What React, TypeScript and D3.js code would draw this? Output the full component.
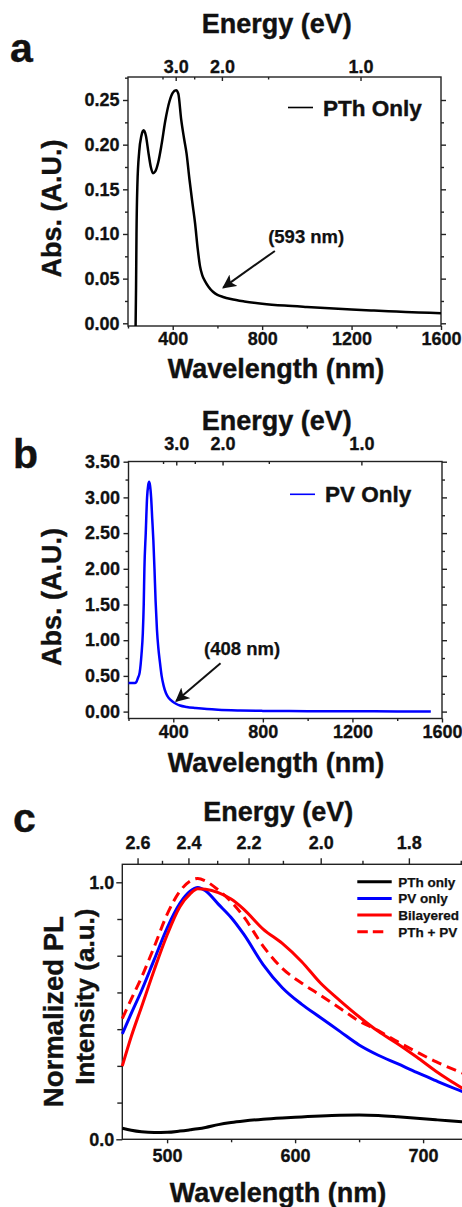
import React, { useEffect, useRef } from 'react'
import * as d3 from 'd3'

// panel a : PTh absorption
const pthWl = [234, 236, 238, 242, 250, 260, 270, 280, 292, 302, 312, 322, 335, 350, 367, 385, 400, 415, 425, 438, 450, 462, 475, 488, 500, 512, 522, 532, 545, 560, 580, 600, 625, 660, 720, 800, 900, 1000, 1100, 1200, 1300, 1400, 1500, 1600]
const pthAbs = [-0.003, 0.04, 0.1, 0.155, 0.192, 0.21, 0.216, 0.21, 0.19, 0.175, 0.168, 0.17, 0.18, 0.2, 0.227, 0.248, 0.258, 0.261, 0.257, 0.228, 0.208, 0.19, 0.161, 0.135, 0.112, 0.083, 0.064, 0.054, 0.047, 0.041, 0.0353, 0.0318, 0.0295, 0.0272, 0.0245, 0.022, 0.0198, 0.0182, 0.0168, 0.0155, 0.0143, 0.0132, 0.0122, 0.0112]

// panel b : PV absorption
const pvWl = [200, 215, 230, 236, 242, 250, 258, 264, 268, 271, 277, 283, 288, 292, 296, 301, 306, 311, 316, 321, 327, 333, 340, 348, 357, 367, 380, 395, 412, 430, 460, 500, 550, 600, 700, 800, 1000, 1200, 1400, 1550]
const pvAbs = [0.4, 0.4, 0.4, 0.42, 0.47, 0.55, 0.8, 1.1, 1.5, 2.0, 2.5, 3.0, 3.17, 3.22, 3.17, 3.0, 2.7, 2.4, 2.0, 1.55, 1.15, 0.9, 0.7, 0.5, 0.36, 0.26, 0.19, 0.145, 0.11, 0.085, 0.065, 0.05, 0.035, 0.025, 0.015, 0.01, 0.006, 0.004, 0.003, 0.002]

// panel c : normalized PL
const plWl = [465, 472, 480, 490, 500, 510, 518, 524, 530, 540, 550, 560, 575, 590, 605, 620, 635, 650, 665, 680, 695, 710, 720, 731]
const plPth = [0.043, 0.035, 0.029, 0.026, 0.027, 0.032, 0.037, 0.041, 0.046, 0.057, 0.065, 0.071, 0.078, 0.083, 0.087, 0.091, 0.094, 0.095, 0.093, 0.088, 0.082, 0.076, 0.072, 0.068]
const plPv = [0.41, 0.49, 0.578, 0.7, 0.822, 0.918, 0.965, 0.98, 0.967, 0.915, 0.863, 0.797, 0.68, 0.59, 0.526, 0.473, 0.42, 0.367, 0.327, 0.294, 0.26, 0.228, 0.207, 0.185]
const plBilayer = [0.285, 0.4, 0.515, 0.66, 0.795, 0.905, 0.955, 0.975, 0.973, 0.96, 0.935, 0.895, 0.818, 0.762, 0.692, 0.607, 0.54, 0.477, 0.42, 0.372, 0.32, 0.265, 0.232, 0.198]
const plMix = [0.47, 0.545, 0.63, 0.75, 0.875, 0.965, 1.005, 1.015, 1.005, 0.97, 0.925, 0.865, 0.752, 0.665, 0.608, 0.56, 0.51, 0.46, 0.423, 0.38, 0.34, 0.302, 0.28, 0.257]

const plSeries = [
  { name: 'PTh only', values: plPth, color: '#000000', dash: null },
  { name: 'PV only', values: plPv, color: '#0000ff', dash: null },
  { name: 'Bilayered', values: plBilayer, color: '#ff0000', dash: null },
  { name: 'PTh + PV', values: plMix, color: '#ff0000', dash: '10,6' },
]

// ticks
const absTicksA = [0, 0.05, 0.1, 0.15, 0.2, 0.25]
const absMinorA = [0.025, 0.075, 0.125, 0.175, 0.225, 0.275]
const absTicksB = [0, 0.5, 1, 1.5, 2, 2.5, 3, 3.5]
const absMinorB = [0.25, 0.75, 1.25, 1.75, 2.25, 2.75, 3.25]
const wlTicksAB = [400, 800, 1200, 1600]
const wlMinorAB = [200, 600, 1000, 1400]
const eTicksAB = [3.0, 2.0, 1.0]
const eMinorAB = [3.5, 2.5, 1.5]
const wlTicksC = [500, 600, 700]
const wlMinorC = [550, 650]
const eTicksC = [2.6, 2.4, 2.2, 2.0, 1.8]
const eMinorC = [2.5, 2.3, 2.1, 1.9, 1.7]
const plTicksC = [0, 1]
const plMinorC = [1 / 7, 2 / 7, 3 / 7, 4 / 7, 5 / 7, 6 / 7]

const FONT = '"Liberation Sans", Arial, Helvetica, sans-serif'

const App = () => {
  const svgRef = useRef()

  useEffect(() => {
    const svg = d3.select(svgRef.current)
    svg.selectAll('*').remove()

    const styleAxis = (g, size = 18) => {
      g.attr('font-size', size).attr('font-family', FONT).attr('font-weight', 'bold')
      g.selectAll('.domain').remove()
      g.selectAll('line').attr('stroke', '#222').attr('stroke-width', 1.4)
      g.selectAll('text').attr('fill', '#111').attr('stroke', '#111').attr('stroke-width', 0.3)
    }

    const text = (x, y, str, size, anchor = 'middle', rotate = false) =>
      svg.append('text')
        .attr('transform', rotate ? `translate(${x},${y}) rotate(-90)` : `translate(${x},${y})`)
        .attr('text-anchor', anchor)
        .attr('font-family', FONT)
        .attr('font-weight', 'bold')
        .attr('font-size', size)
        .attr('fill', '#111')
        .attr('stroke', '#111')
        .attr('stroke-width', size > 20 ? 0.4 : 0.25)
        .text(str)

    const arrow = (x1, y1, x2, y2) => {
      svg.append('line')
        .attr('x1', x1).attr('y1', y1).attr('x2', x2).attr('y2', y2)
        .attr('stroke', '#111').attr('stroke-width', 2)
        .attr('marker-end', 'url(#head)')
    }

    svg.append('defs').append('marker')
      .attr('id', 'head')
      .attr('viewBox', '0 0 10 10')
      .attr('refX', 9).attr('refY', 5)
      .attr('markerWidth', 7).attr('markerHeight', 7)
      .attr('orient', 'auto')
      .append('path').attr('d', 'M0,0 L10,5 L0,10 L2.5,5 z').attr('fill', '#111')

    // ---------- abs panels (a, b) ----------
    const absPanel = (p) => {
      const x = d3.scaleLinear().domain([200, 1600]).range([p.left, p.right])
      const y = d3.scaleLinear().domain([0, p.yMax]).range([p.y0, p.yTop])

      svg.append('rect')
        .attr('x', p.left).attr('y', p.top)
        .attr('width', p.right - p.left).attr('height', p.bottom - p.top)
        .attr('fill', 'none').attr('stroke', '#222').attr('stroke-width', 1.4)

      const g = svg.append('g')
      g.append('g').attr('transform', `translate(${p.left},0)`)
        .call(d3.axisLeft(y).tickValues(p.yTicks).tickSize(5).tickPadding(3.5).tickFormat(d3.format('.2f')))
        .call(styleAxis)
      g.append('g').attr('transform', `translate(${p.left},0)`)
        .call(d3.axisLeft(y).tickValues(p.yMinor).tickSize(3).tickFormat(() => ''))
        .call(styleAxis)
      g.append('g').attr('transform', `translate(${p.right},0)`)
        .call(d3.axisRight(y).tickValues(p.yTicks).tickSize(5).tickFormat(() => ''))
        .call(styleAxis)
      g.append('g').attr('transform', `translate(${p.right},0)`)
        .call(d3.axisRight(y).tickValues(p.yMinor.filter(v => y(v) > p.top + 1)).tickSize(3).tickFormat(() => ''))
        .call(styleAxis)
      g.append('g').attr('transform', `translate(0,${p.bottom})`)
        .call(d3.axisBottom(x).tickValues(wlTicksAB).tickSize(4).tickPadding(p.xPad).tickFormat(d3.format('d')))
        .call(styleAxis)
      g.append('g').attr('transform', `translate(0,${p.bottom})`)
        .call(d3.axisBottom(x).tickValues(wlMinorAB).tickSize(2.5).tickFormat(() => ''))
        .call(styleAxis)
      g.append('g').attr('transform', `translate(0,${p.top})`)
        .call(d3.axisTop(x).tickValues(eTicksAB.map(e => 1240 / e)).tickSizeInner(-4).tickPadding(p.ePad)
          .tickFormat(d => (1240 / d).toFixed(1)))
        .call(styleAxis)
      g.append('g').attr('transform', `translate(0,${p.top})`)
        .call(d3.axisTop(x).tickValues(eMinorAB.map(e => 1240 / e)).tickSizeInner(-2.5).tickFormat(() => ''))
        .call(styleAxis)

      const line = d3.line().x(d => x(d[0])).y(d => y(d[1])).curve(d3.curveMonotoneX)
      svg.append('path')
        .attr('d', line(d3.zip(p.wl, p.vals)))
        .attr('fill', 'none').attr('stroke', p.color).attr('stroke-width', 2.5)
        .attr('stroke-linejoin', 'round')

      // legend
      const lx = p.legend[0], ly = p.legend[1]
      svg.append('line').attr('x1', lx).attr('x2', lx + 25).attr('y1', ly).attr('y2', ly)
        .attr('stroke', p.color).attr('stroke-width', 1.6)
      text(lx + 35, ly + 8, p.name, 22.5, 'start')

      // annotation
      arrow(x(p.ann.tail[0]), y(p.ann.tail[1]), x(p.ann.tip[0]), y(p.ann.tip[1]))
      text(x(p.ann.text[0]), y(p.ann.text[1]), p.ann.label, 18.5)

      text(p.letter[0], p.letter[1], p.letter[2], 41, 'start')
      text(276.7, p.energyY, 'Energy (eV)', 27)
      text(276, p.wlY, 'Wavelength (nm)', 27)
      text(61, (p.top + p.bottom) / 2 + 7, 'Abs. (A.U.)', 27, 'middle', true)
    }

    absPanel({
      left: 128, right: 441, top: 77, bottom: 326, y0: 323.3, yTop: 100, yMax: 0.25,
      yTicks: absTicksA, yMinor: absMinorA, xPad: 2.2, ePad: 4.3,
      wl: pthWl, vals: pthAbs, color: '#000', name: 'PTh Only', legend: [288, 107.5],
      ann: { tail: [857, 0.081], tip: [626, 0.040], text: [997, 0.0895], label: '(593 nm)' },
      letter: [10, 62, 'a'], energyY: 33.3, wlY: 378.3,
    })

    absPanel({
      left: 128.5, right: 442, top: 461.5, bottom: 718.5, y0: 711.6, yTop: 461.7, yMax: 3.5,
      yTicks: absTicksB, yMinor: absMinorB, xPad: 3.1, ePad: 11.5,
      wl: pvWl, vals: pvAbs, color: '#0000ff', name: 'PV Only', legend: [290, 494.3],
      ann: { tail: [611, 0.676], tip: [413, 0.148], text: [707, 0.79], label: '(408 nm)' },
      letter: [13, 468, 'b'], energyY: 430, wlY: 771.7,
    })

    // ---------- PL panel (c) ----------
    const c = { left: 122.3, top: 864.3, bottom: 1139.3 }
    const xc = d3.scaleLinear().domain([465, 740]).range([c.left, c.left + 275 * 1.28])
    const yc = d3.scaleLinear().domain([0, 1]).range([c.bottom, 882.3])

    svg.append('rect')
      .attr('x', c.left).attr('y', c.top)
      .attr('width', xc(740) - c.left).attr('height', c.bottom - c.top)
      .attr('fill', 'none').attr('stroke', '#222').attr('stroke-width', 1.4)

    svg.append('g').attr('transform', `translate(${c.left},0)`)
      .call(d3.axisLeft(yc).tickValues(plTicksC).tickSize(6).tickPadding(2).tickFormat(d3.format('.1f')))
      .call(styleAxis)
    svg.append('g').attr('transform', `translate(${c.left},0)`)
      .call(d3.axisLeft(yc).tickValues(plMinorC).tickSize(5).tickFormat(() => ''))
      .call(styleAxis)
    svg.append('g').attr('transform', `translate(0,${c.bottom})`)
      .call(d3.axisBottom(xc).tickValues(wlTicksC).tickSize(4).tickPadding(5.6))
      .call(styleAxis)
    svg.append('g').attr('transform', `translate(0,${c.bottom})`)
      .call(d3.axisBottom(xc).tickValues(wlMinorC).tickSize(3).tickFormat(() => ''))
      .call(styleAxis)
    svg.append('g').attr('transform', `translate(0,${c.top})`)
      .call(d3.axisTop(xc).tickValues(eTicksC.map(e => 1240 / e)).tickSize(6).tickPadding(9.3)
        .tickFormat(d => (1240 / d).toFixed(1)))
      .call(styleAxis)
    svg.append('g').attr('transform', `translate(0,${c.top})`)
      .call(d3.axisTop(xc).tickValues(eMinorC.map(e => 1240 / e)).tickSize(3.5).tickFormat(() => ''))
      .call(styleAxis)

    const plLine = d3.line().x(d => xc(d[0])).y(d => yc(d[1])).curve(d3.curveMonotoneX)
    plSeries.forEach(s => {
      svg.append('path')
        .attr('d', plLine(d3.zip(plWl, s.values)))
        .attr('fill', 'none').attr('stroke', s.color).attr('stroke-width', 3)
        .attr('stroke-dasharray', s.dash)
    })

    plSeries.forEach((s, i) => {
      const ly = 881.7 + i * 16.7
      svg.append('line')
        .attr('x1', 357.3).attr('x2', s.dash ? 383.3 : 391.7).attr('y1', ly).attr('y2', ly)
        .attr('stroke', s.color).attr('stroke-width', 3)
        .attr('stroke-dasharray', s.dash ? '10.5,5' : null)
      text(398.3, ly + 5, s.name, 13.5, 'start')
    })

    text(13, 831.7, 'c', 41, 'start')
    text(278.3, 820.7, 'Energy (eV)', 27)
    text(278, 1201.7, 'Wavelength (nm)', 27)
    text(63, 1011.7, 'Normalized PL', 27.5, 'middle', true)
    text(93.5, 996.7, 'Intensity (a.u.)', 26, 'middle', true)
  }, [])

  return (
    <svg ref={svgRef} width={462} height={1207}
      style={{ position: 'absolute', left: 0, top: 0, background: '#fff' }} />
  )
}

export default App
